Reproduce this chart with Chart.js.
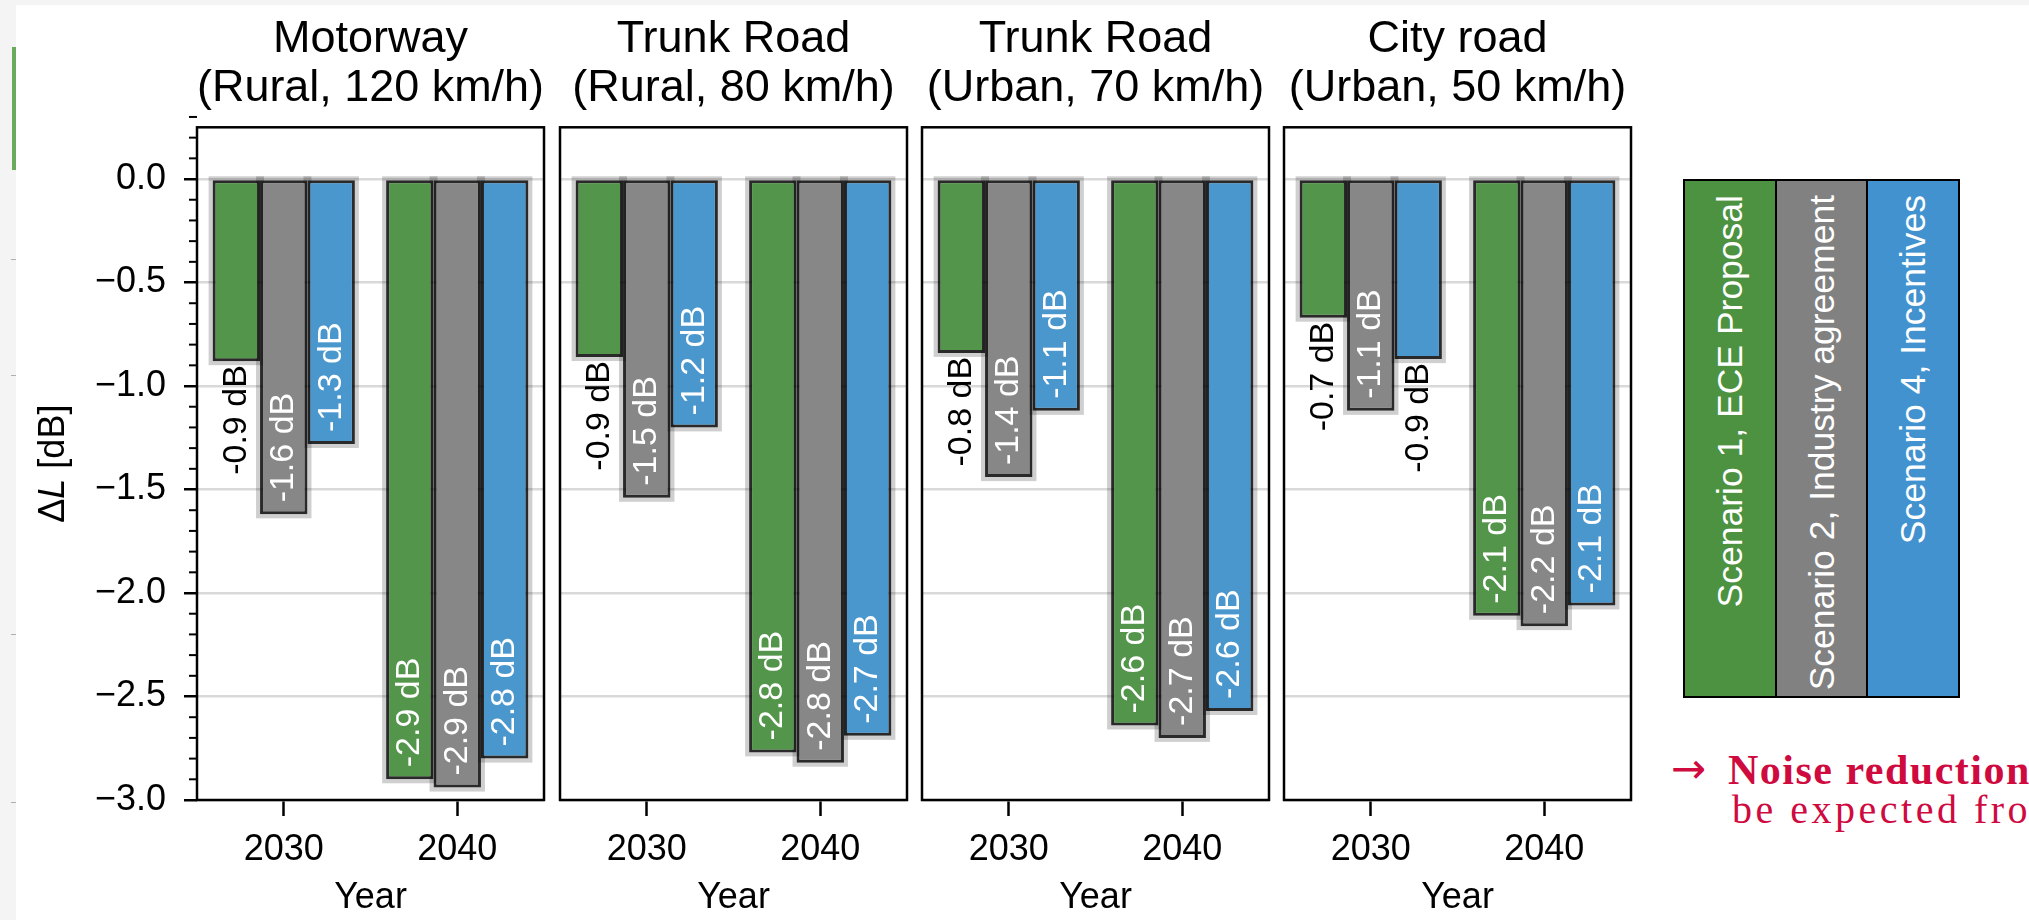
<!DOCTYPE html>
<html>
<head>
<meta charset="utf-8">
<script src="https://cdn.jsdelivr.net/npm/chart.js@4.4.1/dist/chart.umd.min.js"></script>
<style>
html, body { margin: 0; padding: 0; width: 2029px; height: 920px; overflow: hidden; background: #fff; }
#stage { position: relative; width: 2029px; height: 920px; overflow: hidden; background: #fff; }
.strip-left { position: absolute; left: 0; top: 0; width: 16px; height: 920px; background: #f4f4f4; }
.strip-top { position: absolute; left: 0; top: 0; width: 2029px; height: 5px; background: #f4f4f4; }
.greenmark { position: absolute; left: 12px; top: 47px; width: 4px; height: 123px; background: #6aaa5c; }
.tinymark { position: absolute; left: 11px; width: 5px; height: 1px; background: #b0b0b0; }
canvas { position: absolute; top: 0; }
#legend { position: absolute; left: 1683px; top: 179px; width: 277px; height: 519px; box-sizing: border-box;
          border: 2.5px solid #000; display: flex; }
.lcol { position: relative; flex: 1; height: 100%; }
.lcol + .lcol { border-left: 2.5px solid #000; }
.lcol span { position: absolute; top: 14px; left: 50%; white-space: nowrap; color: #fff;
             font-family: 'Liberation Sans', Arial, sans-serif; font-size: 35.5px; line-height: 40px;
             transform-origin: 0 0; transform: rotate(-90deg) translate(-100%, -50%); }
#note { position: absolute; left: 1660px; top: 740px; width: 369px; height: 120px; overflow: hidden; color: #cf0a3f; }
#note .arrow { position: absolute; left: 11px; top: 8px; font-family: 'DejaVu Sans', sans-serif; font-size: 42px; line-height: 42px; }
#note .l1 { position: absolute; left: 68px; top: 9px; white-space: nowrap; font-family: 'Liberation Serif', serif;
            font-weight: bold; font-size: 42px; line-height: 42px; letter-spacing: 1.5px; }
#note .l2 { position: absolute; left: 72px; top: 50px; white-space: nowrap; font-family: 'Liberation Serif', serif;
            font-size: 40px; line-height: 40px; letter-spacing: 3.5px; }
</style>
</head>
<body>
<div id="stage">
  <div class="strip-left"></div>
  <div class="strip-top"></div>
  <div class="greenmark"></div>
  <div class="tinymark" style="top:259px"></div>
  <div class="tinymark" style="top:375px"></div>
  <div class="tinymark" style="top:634px"></div>
  <div class="tinymark" style="top:802px"></div>
  <canvas id="p0" width="552" height="920" style="left:0px"></canvas>
  <canvas id="p1" width="363" height="920" style="left:552px"></canvas>
  <canvas id="p2" width="363" height="920" style="left:914px"></canvas>
  <canvas id="p3" width="363" height="920" style="left:1276px"></canvas>
  <div id="legend"></div>
  <div id="note">
    <span class="arrow">→</span>
    <span class="l1">Noise reduction</span>
    <span class="l2">be expected fro</span>
  </div>
</div>
<script>
// ---------------- data ----------------
const years = ['2030', '2040'];
const roadNames = ['Motorway', 'Trunk Road', 'Trunk Road', 'City road'];
const roadContexts = ['(Rural, 120 km/h)', '(Rural, 80 km/h)', '(Urban, 70 km/h)', '(Urban, 50 km/h)'];
const scenarioNames = ['Scenario 1, ECE Proposal', 'Scenario 2, Industry agreement', 'Scenario 4, Incentives'];
// values in dB per road panel: [2030, 2040]
const scenario1 = [[-0.88, -2.90], [-0.86, -2.77], [-0.84, -2.64], [-0.67, -2.11]];
const scenario2 = [[-1.62, -2.94], [-1.54, -2.82], [-1.44, -2.70], [-1.12, -2.16]];
const scenario4 = [[-1.28, -2.80], [-1.20, -2.69], [-1.12, -2.57], [-0.87, -2.06]];
const yMin = -3.0, yMax = 0.25, yStep = 0.5;

// ---------------- styles ----------------
const series = [scenario1, scenario2, scenario4];
const barColors = ['#53954a', '#878787', '#4a97ce'];
const legendColors = ['#4c9241', '#818181', '#4292cf'];
const FONT = "'Liberation Sans', Arial, sans-serif";
Chart.defaults.font.family = FONT;
Chart.defaults.color = '#000';

const haloPlugin = {
  id: 'halo',
  beforeDatasetsDraw(chart) {
    const ctx = chart.ctx;
    ctx.save();
    ctx.strokeStyle = 'rgba(0,0,0,0.19)';
    ctx.lineWidth = 8;
    chart.data.datasets.forEach((ds, i) => {
      chart.getDatasetMeta(i).data.forEach(bar => {
        const p = bar.getProps(['x', 'y', 'base', 'width'], true);
        const top = Math.min(p.y, p.base), bot = Math.max(p.y, p.base);
        ctx.strokeRect(p.x - p.width / 2, top, p.width, bot - top);
      });
    });
    ctx.restore();
  }
};

const labelPlugin = {
  id: 'barlabels',
  afterDatasetsDraw(chart) {
    const ctx = chart.ctx;
    ctx.save();
    ctx.font = '34px ' + FONT;
    ctx.textBaseline = 'middle';
    chart.data.datasets.forEach((ds, i) => {
      chart.getDatasetMeta(i).data.forEach((bar, j) => {
        const v = ds.data[j];
        const p = bar.getProps(['x', 'y'], true);
        const txt = v.toFixed(1) + ' dB';
        ctx.save();
        if (Math.abs(v) >= 1.0) {
          ctx.translate(p.x, p.y - 12);
          ctx.rotate(-Math.PI / 2);
          ctx.textAlign = 'left';
          ctx.fillStyle = '#ffffff';
        } else {
          ctx.translate(p.x, p.y + 4);
          ctx.rotate(-Math.PI / 2);
          ctx.textAlign = 'right';
          ctx.fillStyle = '#000000';
        }
        ctx.fillText(txt, 0, 0);
        ctx.restore();
      });
    });
    ctx.restore();
  }
};

const framePlugin = {
  id: 'frame',
  afterDraw(chart) {
    const {ctx, chartArea: a} = chart;
    ctx.save();
    ctx.strokeStyle = '#000';
    ctx.lineWidth = 2.5;
    ctx.strokeRect(a.left, a.top, a.right - a.left, a.bottom - a.top);
    ctx.restore();
  }
};

const minorTickPlugin = {
  id: 'minorticks',
  afterDraw(chart) {
    const {ctx, chartArea: a} = chart;
    const ys = chart.scales.y;
    ctx.save();
    ctx.strokeStyle = '#000';
    ctx.lineWidth = 2;
    for (let k = Math.round(yMin * 10); k <= Math.round(yMax * 10); k++) {
      if (k % 5 === 0) continue;
      const py = ys.getPixelForValue(k / 10);
      ctx.beginPath();
      ctx.moveTo(a.left - 8, py);
      ctx.lineTo(a.left, py);
      ctx.stroke();
    }
    ctx.restore();
  }
};

const yTitlePlugin = {
  id: 'ytitle',
  afterDraw(chart) {
    const {ctx, chartArea: a} = chart;
    const cy = (a.top + a.bottom) / 2;
    const parts = [['\u0394', '36px ' + FONT], ['L', 'italic 36px ' + FONT], [' [dB]', '36px ' + FONT]];
    ctx.save();
    ctx.translate(54, cy);
    ctx.rotate(-Math.PI / 2);
    ctx.fillStyle = '#000';
    ctx.textBaseline = 'middle';
    ctx.textAlign = 'left';
    let total = 0;
    parts.forEach(p => { ctx.font = p[1]; total += ctx.measureText(p[0]).width; });
    let x = -total / 2;
    parts.forEach(p => { ctx.font = p[1]; ctx.fillText(p[0], x, 0); x += ctx.measureText(p[0]).width; });
    ctx.restore();
  }
};

function makePanel(idx) {
  const isFirst = idx === 0;
  const canvas = document.getElementById('p' + idx);
  return new Chart(canvas, {
    type: 'bar',
    data: {
      labels: years,
      datasets: scenarioNames.map((name, si) => ({
        label: name,
        data: series[si][idx],
        backgroundColor: barColors[si],
        borderColor: 'rgba(0,0,0,0.8)',
        borderWidth: 3,
        borderSkipped: false,
        barPercentage: 1.0,
        categoryPercentage: 0.82
      }))
    },
    options: {
      responsive: false,
      animation: false,
      devicePixelRatio: 1,
      layout: { padding: { left: isFirst ? 0 : 8, right: 8, top: 0, bottom: 0 } },
      plugins: {
        legend: { display: false },
        tooltip: { enabled: false },
        title: {
          display: true,
          fullSize: false,
          text: [roadNames[idx], roadContexts[idx]],
          color: '#000',
          font: { size: 45, weight: 'normal', lineHeight: 1.07 },
          padding: { top: 16, bottom: 15 }
        }
      },
      scales: {
        x: {
          type: 'category',
          offset: true,
          border: { display: false },
          grid: { display: true, offset: false, drawOnChartArea: false, drawTicks: true,
                  tickLength: 16, tickWidth: 2.5, tickColor: '#000' },
          ticks: { color: '#000', font: { size: 36 }, padding: 12, maxRotation: 0, autoSkip: false },
          title: { display: true, text: 'Year', color: '#000', font: { size: 36 }, padding: { top: 0, bottom: 0 } },
          afterFit(s) { s.height = 120; }
        },
        y: {
          type: 'linear',
          min: yMin,
          max: yMax,
          border: { display: false },
          grid: { color: '#d9d9d9', lineWidth: 2.5, drawTicks: isFirst, tickLength: isFirst ? 13 : 0,
                  tickWidth: 2.5, tickColor: '#000' },
          ticks: {
            display: isFirst,
            stepSize: yStep,
            includeBounds: false,
            color: '#000',
            font: { size: 36 },
            padding: 18,
            callback: v => (v < -1e-9 ? '\u2212' : '') + Math.abs(v).toFixed(1)
          },
          afterFit(s) { s.width = isFirst ? 197 : 0; }
        }
      }
    },
    plugins: [haloPlugin, labelPlugin, framePlugin].concat(isFirst ? [minorTickPlugin, yTitlePlugin] : [])
  });
}

for (let i = 0; i < 4; i++) makePanel(i);

// legend
const legendBox = document.getElementById('legend');
scenarioNames.forEach((name, i) => {
  const col = document.createElement('div');
  col.className = 'lcol';
  col.style.background = legendColors[i];
  const s = document.createElement('span');
  s.textContent = name;
  col.appendChild(s);
  legendBox.appendChild(col);
});
</script>
</body>
</html>
